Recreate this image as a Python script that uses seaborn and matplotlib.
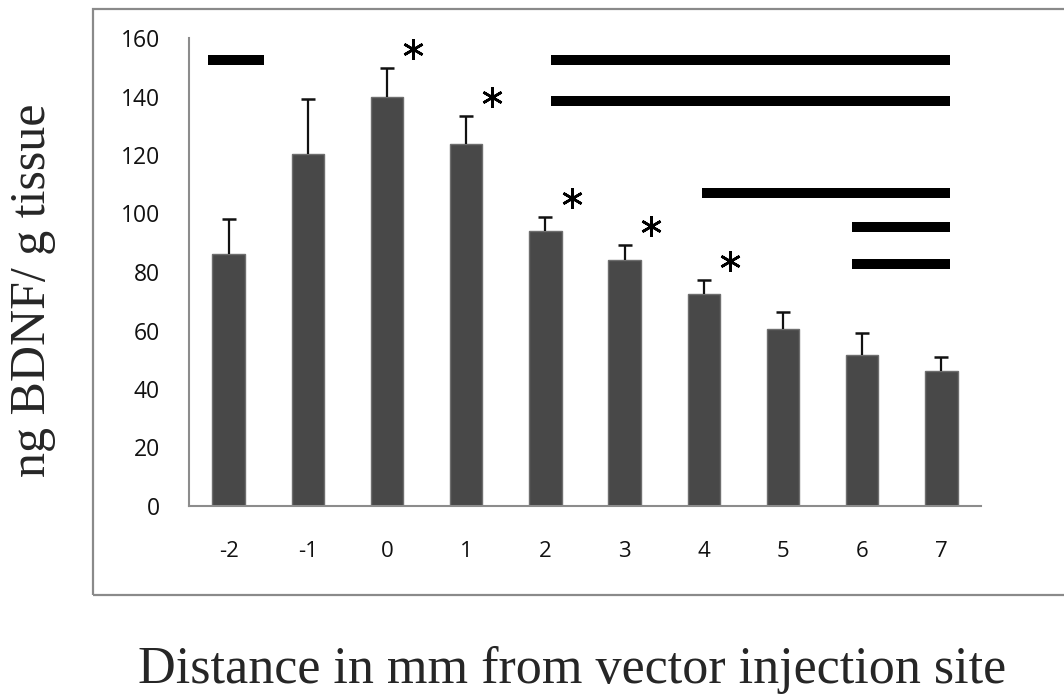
import numpy as np
import pandas as pd
import matplotlib
matplotlib.use('Agg')
import matplotlib.pyplot as plt
import seaborn as sns
from matplotlib.patches import Rectangle

# Data
distance = ['-2', '-1', '0', '1', '2', '3', '4', '5', '6', '7']
bdnf = [86.2, 120.3, 139.8, 123.8, 94.0, 84.1, 72.5, 60.5, 51.6, 46.2]
sem = [11.9, 18.8, 9.9, 9.6, 4.8, 5.1, 4.8, 5.8, 7.5, 4.7]

# bars with a star (index into distance)
star_idx = [2, 3, 4, 5, 6]

# significance lines: start, end (category index units), height
line_start = [-0.26, 4.07, 4.07, 5.98, 7.87, 7.87]
line_end = [0.45, 9.11, 9.11, 9.11, 9.11, 9.11]
line_y = [152.5, 152.5, 138.5, 107.0, 95.5, 82.7]

df = pd.DataFrame({'distance': distance, 'bdnf': bdnf, 'sem': sem})

sns.set_style('white')
plt.rcParams['font.family'] = ['Open Sans', 'DejaVu Sans']

fig = plt.figure(figsize=(10.64, 6.98), dpi=100)
W, H = 1064, 698

# Excel-style chart area border
fig.patches.append(Rectangle((93 / W, 1 - 595 / H), (1070 - 93) / W, (595 - 9) / H,
                             transform=fig.transFigure, fill=False,
                             edgecolor='#8a8a8a', linewidth=1.6))

ax = fig.add_axes([189 / W, 1 - 506 / H, (981 - 189) / W, (506 - 38) / H])

sns.barplot(data=df, x='distance', y='bdnf', order=distance, color='#484848',
            width=0.41, saturation=1, errorbar=None, edgecolor='#6e6e6e',
            linewidth=1, ax=ax)

# upper error bars only
xpos = np.arange(len(distance))
_, caps, _ = ax.errorbar(xpos, df['bdnf'], yerr=[np.zeros(len(sem)), df['sem']], fmt='none',
                         ecolor='#111111', elinewidth=1.6, capsize=5, capthick=1.8)
caps[0].set_visible(False)

for s, e, y in zip(line_start, line_end, line_y):
    ax.plot([s, e], [y, y], color='black', linewidth=7.2, solid_capstyle='butt')

for i in star_idx:
    ax.plot(i + 0.33, bdnf[i] + sem[i] + 6.5, marker=(6, 2, 0), markersize=15,
            markeredgewidth=1.9, color='black', linestyle='none')

ax.set_xlim(-0.5, len(distance) - 0.5)
ax.set_ylim(0, 160)
ax.set_yticks(np.arange(0, 161, 20))
ax.set_xlabel('')
ax.set_ylabel('')

for side in ['top', 'right']:
    ax.spines[side].set_visible(False)
for side in ['left', 'bottom']:
    ax.spines[side].set_color('#8c8c8c')
    ax.spines[side].set_linewidth(1.5)

ax.set_xticks(np.arange(-0.5, len(distance), 1), minor=True)
ax.tick_params(axis='x', which='major', length=0, pad=25, labelsize=16, labelcolor='#111111')
ax.tick_params(axis='x', which='minor', length=7, width=1.5, color='#8c8c8c', direction='out')
ax.tick_params(axis='y', length=7, width=1.5, color='#8c8c8c', direction='out',
               pad=14, labelsize=16.5, labelcolor='#111111')

fig.text(33 / W, 1 - 290 / H, 'ng BDNF/ g tissue', rotation=90, ha='center',
         va='center', fontsize=36, family=['Liberation Serif', 'DejaVu Serif'])
fig.text(572 / W, 1 - 670 / H, 'Distance in mm from vector injection site',
         ha='center', va='center', fontsize=37.5, family=['Liberation Serif', 'DejaVu Serif'])

fig.savefig('out.png', dpi=100)
